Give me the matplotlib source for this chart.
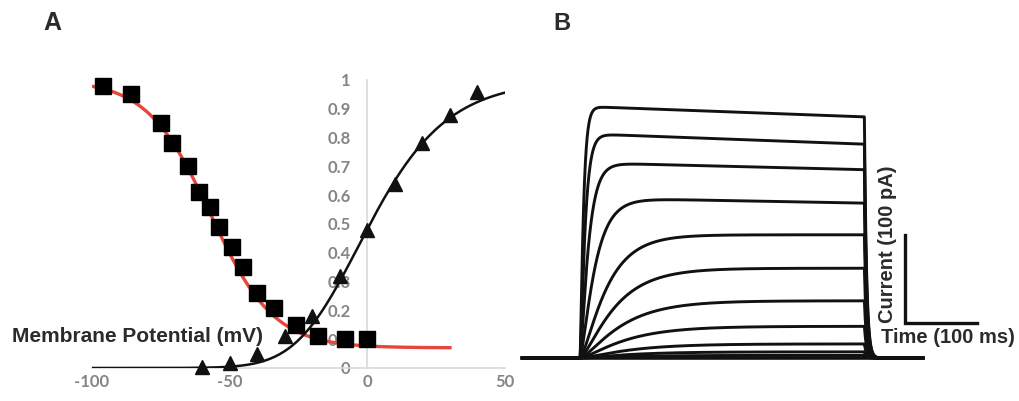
import numpy as np
import matplotlib.pyplot as plt

plt.rcParams['axes.unicode_minus'] = False

# --- panel A: steady-state activation / inactivation ---
inact_v = [-96, -86, -75, -71, -65, -61, -57, -54, -49, -45, -40, -34, -26, -18, -8, 0]
inact_g = [0.98, 0.95, 0.85, 0.78, 0.70, 0.61, 0.56, 0.49, 0.42, 0.35, 0.26, 0.21, 0.15, 0.11, 0.10, 0.10]

act_v = [-60, -50, -40, -30, -20, -10, 0, 10, 20, 30, 40]
act_g = [0.005, 0.017, 0.05, 0.11, 0.18, 0.32, 0.48, 0.64, 0.78, 0.88, 0.96]

# fit parameters: inactivation Boltzmann (V half, slope, floor),
# activation Boltzmann cubed (V half, slope, power)
inact_fit = (-57.0, 11.5, 0.07)
act_fit = (-22.2, 17.2, 3)

# --- panel B: current traces (pA), step duration in ms ---
step_ms = 395
peak_pA = [286, 255, 222, 182, 140, 102, 65, 36, 16, 7, 3]
end_pA = [274, 243, 214, 176, 140, 102, 65, 36, 16, 7, 3]
rise_tau = [4, 6, 10, 18, 32, 42, 50, 55, 60, 60, 60]

W, H = 1020, 401
fig = plt.figure(figsize=(W / 100, H / 100), dpi=100)

gray = '#858585'
dark = '#2b2b2b'

# panel A axes, placed so x=0 spine and y=0 line sit where they should
ax = fig.add_axes([92 / W, (H - 368) / H, (505 - 92) / W, (368 - 80) / H])
ax.set_xlim(-100, 50)
ax.set_ylim(0, 1)
for s in ['top', 'right']:
    ax.spines[s].set_visible(False)
ax.spines['left'].set_position(('data', 0))
for s in ['left', 'bottom']:
    ax.spines[s].set_color('#d9d9d9')
    ax.spines[s].set_linewidth(1.2)
ax.set_yticks(np.arange(0, 1.01, 0.1))
ax.set_yticklabels(['0', '0.1', '0.2', '0.3', '0.4', '0.5', '0.6', '0.7', '0.8', '0.9', '1'])
ax.set_xticks([-100, -50, 0, 50])
ax.tick_params(axis='y', length=0, pad=12)
ax.tick_params(axis='x', length=0, pad=4)
for lab in ax.get_xticklabels() + ax.get_yticklabels():
    lab.set_fontfamily('Lato')
    lab.set_fontweight('bold')
    lab.set_fontsize(12)
    lab.set_color(gray)

vh, k, floor = inact_fit
v = np.linspace(-100, 30, 400)
ax.plot(v, floor + (1 - floor) / (1 + np.exp((v - vh) / k)), color='#e8453c', lw=2.4, zorder=2)
ax.plot(inact_v, inact_g, 's', color='black', ms=12, zorder=3, clip_on=False)

vh, k, n = act_fit
v = np.linspace(-100, 50, 400)
ax.plot(v, (1 / (1 + np.exp(-(v - vh) / k))) ** n, color='#111111', lw=1.8, zorder=4)
ax.plot(act_v, act_g, '^', color='#111111', ms=10.5, zorder=5, clip_on=False)

fig.text(12 / W, 1 - 336 / H, 'Membrane Potential (mV)', fontsize=15, fontweight='bold',
         family='Liberation Sans', color=dark, va='center', ha='left')
fig.text(43 / W, 1 - 23 / H, 'A', fontsize=18, fontweight='bold', family='Liberation Sans',
         color=dark, va='center', ha='left')
fig.text(553 / W, 1 - 23 / H, 'B', fontsize=17, fontweight='bold', family='Liberation Sans',
         color=dark, va='center', ha='left')

# panel B: raw traces, no axes, with scale bars
px_ms, px_pA = 0.72, 0.88
bx = fig.add_axes([500 / W, 0, 520 / W, 1 - 40 / H])
bx.set_xlim((500 - 580) / px_ms, (1020 - 580) / px_ms)
bx.set_ylim((358 - 401) / px_pA, (358 - 40) / px_pA)
bx.axis('off')

t = np.linspace(-80, 476, 4000)
for p, e, tau in zip(peak_pA, end_pA, rise_tau):
    on = (t >= 0) & (t <= step_ms)
    cur = np.zeros_like(t)
    tt = t[on]
    cur[on] = (1 - np.exp(-tt / tau)) ** 1.5 * (p - (p - e) * tt / step_ms)
    off = t > step_ms
    cur[off] = e * np.exp(-(t[off] - step_ms) / 3.0)
    bx.plot(t, cur, color='#111111', lw=2.1, solid_joinstyle='round')
bx.plot([-80, 476], [0, 0], color='#111111', lw=2.6)

# scale bar: 100 pA by 100 ms
sx, sy = 452, 40
bx.plot([sx, sx, sx + 100], [sy + 100, sy, sy], color='#111111', lw=2.4, solid_joinstyle='miter')
bx.text(sx - 25, sy, 'Current (100 pA)', rotation=90, fontsize=14.5, fontweight='bold',
        family='Liberation Sans', color=dark, ha='center', va='bottom')
bx.text(sx - 34, sy - 17, 'Time (100 ms)', fontsize=14.5, fontweight='bold',
        family='Liberation Sans', color=dark, ha='left', va='center')

fig.savefig('out.png', dpi=100)
